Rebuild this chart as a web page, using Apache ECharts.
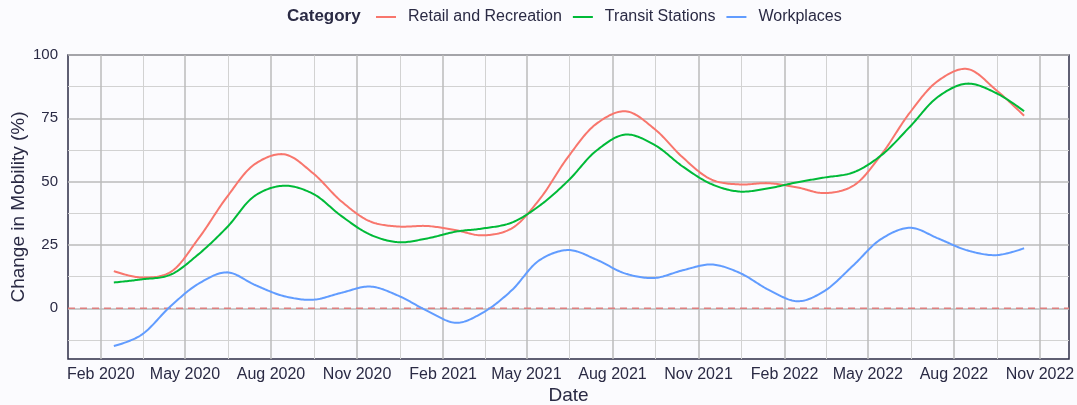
<!DOCTYPE html>
<html>
<head>
<meta charset="utf-8">
<script src="https://cdn.jsdelivr.net/npm/echarts@6/dist/echarts.min.js"></script>
<style>
html,body{margin:0;padding:0;background:#fbfbfe;}
#chart{width:1077px;height:405px;}
</style>
</head>
<body>
<div id="chart"></div>
<script>
const dates = ['2020-02-15','2020-03-15','2020-04-15','2020-05-15','2020-06-15','2020-07-15','2020-08-15','2020-09-15','2020-10-15','2020-11-15','2020-12-15',
  '2021-01-15','2021-02-15','2021-03-15','2021-04-15','2021-05-15','2021-06-15','2021-07-15','2021-08-15','2021-09-15','2021-10-15','2021-11-15','2021-12-15',
  '2022-01-15','2022-02-15','2022-03-15','2022-04-15','2022-05-15','2022-06-15','2022-07-15','2022-08-15','2022-09-15','2022-10-15'];
const retail = [14.7, 12.2, 14.2, 27.3, 44.0, 57.0, 60.8, 53.3, 42.3, 34.3, 32.3, 32.5, 30.8, 28.8, 31.5, 43.0, 60.0, 72.9, 77.8, 70.8, 59.6, 50.8, 48.9, 49.4, 47.7, 45.5, 48.3, 60.5, 77.3, 89.8, 94.5, 86.2, 76.0];
const transit = [10.2, 11.4, 13.2, 21.2, 32.0, 44.5, 48.4, 45.2, 36.5, 29.1, 26.1, 27.6, 30.3, 31.5, 33.8, 40.5, 50.5, 62.3, 68.6, 64.5, 56.0, 49.0, 46.1, 47.4, 49.8, 51.6, 53.6, 60.3, 71.7, 83.5, 88.7, 85.0, 77.8];
const workplaces = [-14.9, -10.6, 0.6, 9.6, 14.2, 9.2, 4.8, 3.4, 6.1, 8.6, 5.0, -1.0, -5.7, -1.8, 7.0, 19.0, 23.0, 19.2, 13.7, 12.0, 15.0, 17.3, 14.0, 7.3, 2.8, 6.7, 16.8, 27.3, 31.8, 27.6, 22.9, 21.0, 23.7];
const seriesNames = ['Retail and Recreation', 'Transit Stations', 'Workplaces'];
const xTicks = ['2020-02-01','2020-05-01','2020-08-01','2020-11-01','2021-02-01','2021-05-01','2021-08-01','2021-11-01','2022-02-01','2022-05-01','2022-08-01','2022-11-01'];
const yTicks = [0, 25, 50, 75, 100];
const yMinorTicks = [-12.5, 12.5, 37.5, 62.5, 87.5];
const refValue = 0;
const xMin = '2019-12-28', xMax = '2022-12-02';
const yMin = -20, yMax = 100;

const ts = d => +new Date(d + 'T00:00:00Z');
const monthNames = ['Jan','Feb','Mar','Apr','May','Jun','Jul','Aug','Sep','Oct','Nov','Dec'];
const xTickTs = xTicks.map(ts);
const xMinorTs = [];
for (let i = 0; i + 1 < xTickTs.length; i++) xMinorTs.push((xTickTs[i] + xTickTs[i + 1]) / 2);

const txt = '#2a2a44';
const font = 'Liberation Sans, Arial, sans-serif';
const colors = ['#F8766D', '#00BA38', '#619CFF'];
const values = [retail, transit, workplaces];

// centripetal Catmull-Rom tangent (spline rendering in pixel space)
function makeTangent(p0, p1, p2) {
  const d1x = p0[0] - p1[0], d1y = p0[1] - p1[1];
  const d2x = p2[0] - p1[0], d2y = p2[1] - p1[1];
  const d1a = Math.pow(d1x * d1x + d1y * d1y, 0.25);
  const d2a = Math.pow(d2x * d2x + d2y * d2y, 0.25);
  const nx = d2a * d2a * d1x - d1a * d1a * d2x;
  const ny = d2a * d2a * d1y - d1a * d1a * d2y;
  const den1 = 3 * d2a * (d1a + d2a), den2 = 3 * d1a * (d1a + d2a);
  return [[p1[0] + (den1 && nx / den1), p1[1] + (den1 && ny / den1)],
          [p1[0] - (den2 && nx / den2), p1[1] - (den2 && ny / den2)]];
}
function splinePoints(pts) {
  const out = [pts[0]];
  const tg = [];
  for (let i = 1; i < pts.length - 1; i++) tg.push(makeTangent(pts[i - 1], pts[i], pts[i + 1]));
  const N = 20;
  const quad = (a, c, b) => { for (let k = 1; k <= N; k++) { const t = k / N, u = 1 - t;
    out.push([u*u*a[0] + 2*u*t*c[0] + t*t*b[0], u*u*a[1] + 2*u*t*c[1] + t*t*b[1]]); } };
  const cub = (a, c1, c2, b) => { for (let k = 1; k <= N; k++) { const t = k / N, u = 1 - t;
    out.push([u*u*u*a[0] + 3*u*u*t*c1[0] + 3*u*t*t*c2[0] + t*t*t*b[0],
              u*u*u*a[1] + 3*u*u*t*c1[1] + 3*u*t*t*c2[1] + t*t*t*b[1]]); } };
  quad(pts[0], tg[0][0], pts[1]);
  for (let i = 2; i < pts.length - 1; i++) cub(pts[i - 1], tg[i - 2][1], tg[i - 1][0], pts[i]);
  quad(pts[pts.length - 2], tg[pts.length - 3][1], pts[pts.length - 1]);
  return out;
}

const lineSeries = seriesNames.map((name, i) => {
  const data = dates.map((d, j) => [ts(d), values[i][j]]);
  return {
    name: name, type: 'custom', coordinateSystem: 'cartesian2d', xAxisIndex: 0, yAxisIndex: 0,
    itemStyle: {color: colors[i]},
    data: data, z: 3,
    renderItem: (params, api) => {
      if (params.dataIndex !== 0) return null;
      const pts = data.map(p => api.coord(p));
      return {type: 'polyline', shape: {points: splinePoints(pts)},
        style: {stroke: colors[i], lineWidth: 2, fill: null}};
    }
  };
});

const chart = echarts.init(document.getElementById('chart'), null, {renderer: 'canvas'});
const option = {
  backgroundColor: '#fbfbfe',
  animation: false,
  textStyle: {fontFamily: font, color: txt},
  color: colors,
  graphic: [{
    type: 'text', left: 287, top: 8,
    style: {text: 'Category', font: 'bold 17px ' + font, fill: txt}
  }],
  legend: {
    left: 376, top: 9, padding: 0,
    icon: 'rect', itemWidth: 20, itemHeight: 2, itemGap: 11,
    textStyle: {fontSize: 16, color: txt, fontFamily: font, padding: [0, 0, 0, 7]},
    data: seriesNames.map((n, i) => ({name: n, itemStyle: {color: colors[i]}}))
  },
  grid: {left: 68, right: 8, top: 55, bottom: 46, outerBoundsMode: 'none', containLabel: false,
    show: true, borderColor: '#2d2d46', borderWidth: 1.5, backgroundColor: 'transparent'},
  xAxis: [{
    type: 'value', min: ts(xMin), max: ts(xMax),
    name: 'Date', nameLocation: 'middle', nameGap: 27, nameMoveOverlap: false,
    nameTextStyle: {fontSize: 19, color: txt, fontFamily: font},
    axisLine: {show: false},
    axisTick: {show: false, customValues: xTickTs},
    axisLabel: {customValues: xTickTs, fontSize: 16, color: txt, margin: 8, fontFamily: font,
      formatter: v => { const d = new Date(v); return monthNames[d.getUTCMonth()] + ' ' + d.getUTCFullYear(); }},
    splitLine: {show: true, lineStyle: {color: '#bbbbbb', width: 1.5}},
    z: 1
  }, {
    type: 'value', min: ts(xMin), max: ts(xMax), position: 'top',
    axisLine: {show: false}, axisLabel: {show: false},
    axisTick: {show: false, customValues: xMinorTs},
    splitLine: {show: true, lineStyle: {color: '#d2d2d2', width: 1}},
    z: 0
  }],
  yAxis: [{
    type: 'value', min: yMin, max: yMax,
    name: 'Change in Mobility (%)', nameLocation: 'middle', nameGap: 40, nameMoveOverlap: false,
    nameTextStyle: {fontSize: 19, color: txt, fontFamily: font},
    axisLine: {show: false},
    axisTick: {show: false, customValues: yTicks},
    axisLabel: {customValues: yTicks, fontSize: 15, color: txt, margin: 10, fontFamily: font},
    splitLine: {show: true, lineStyle: {color: '#bbbbbb', width: 1.5}},
    z: 1
  }, {
    type: 'value', min: yMin, max: yMax, position: 'right',
    axisLine: {show: false}, axisLabel: {show: false},
    axisTick: {show: false, customValues: yMinorTicks},
    splitLine: {show: true, lineStyle: {color: '#d2d2d2', width: 1}},
    z: 0
  }],
  series: [{
    name: 'zero', type: 'line', xAxisIndex: 0, yAxisIndex: 0, symbol: 'none', silent: true, z: 2,
    lineStyle: {color: '#de7f7f', type: [7, 5], width: 1.5},
    data: [[ts(xMin), refValue], [ts(xMax), refValue]]
  }].concat(lineSeries)
};
chart.setOption(option);
</script>
</body>
</html>
